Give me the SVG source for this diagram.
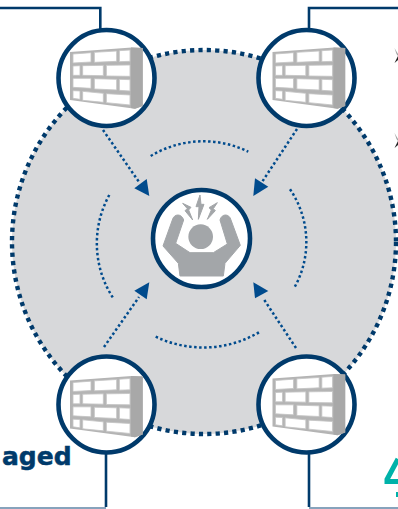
<svg xmlns="http://www.w3.org/2000/svg" xmlns:xlink="http://www.w3.org/1999/xlink" width="398" height="509" viewBox="0 0 398 509">
<style>
.frame{fill:none;stroke:#003a6b;stroke-width:2.6}
.thin{fill:none;stroke:#5f84a6;stroke-width:1.4}
.ring{fill:#fff;stroke:#003a6b;stroke-width:4.6}
.dots{fill:none;stroke:#004b8d;stroke-width:2.5;stroke-dasharray:2.5 2.5}
.head{fill:#004b8d}
.ico{fill:#a3a6a9;stroke:#a3a6a9;stroke-width:3}
</style>
<defs>
<g id="wall">
<polygon points="70,52 131.7,47.5 142.7,48 142.7,106 135,108.7 70,100" fill="#b4b4b4"/>
<polygon points="131,47.6 142.7,48 142.7,106 135,108.7 131,108" fill="#a8a8a8"/>
<g transform="scale(0.33333)" fill="#fff" stroke="#c4c4c4" stroke-width="2.5">
<polygon points="219,162 273,158 273,186 219,189"/>
<polygon points="283,157 350,153 350,184 283,187"/>
<polygon points="358,152 390,150 390,184 358,185"/>
<polygon points="219,198 240,197 240,226 219,226"/>
<polygon points="248,197 310,196 310,227 248,226"/>
<polygon points="319,196 390,195 390,229 319,228"/>
<polygon points="219,235 273,235 273,265 219,262"/>
<polygon points="283,236 350,238 350,270 283,267"/>
<polygon points="358,238 390,239 390,273 358,271"/>
<polygon points="219,272 240,273 240,298 219,295"/>
<polygon points="248,274 310,280 310,307 248,301"/>
<polygon points="319,281 390,285 390,315 319,308"/>
</g>
</g>
</defs>

<g id="background-circle">
<circle cx="204" cy="242" r="192" fill="#d7d8da" stroke="#003a6b" stroke-width="4.4" stroke-dasharray="4.2 4.2"/>
</g>

<g id="connectors">
<path class="frame" d="M0,8H100.3V32"/>
<path class="frame" d="M398,8H309V32"/>
<path class="frame" d="M106,452V507"/>
<path class="thin" d="M0,508H106"/>
<path class="frame" d="M309,452V507"/>
<path class="thin" d="M309,508H398"/>
<path class="dots" d="M103,130L139,182"/>
<polygon class="head" points="149.3,196 134.3,188.3 146.7,179"/>
<path class="dots" d="M297,129L262,182"/>
<polygon class="head" points="253.3,196 268.3,186.7 255,178.3"/>
<path class="dots" d="M104,347L139,297"/>
<polygon class="head" points="149.3,282.3 134.3,290.7 146.7,299.3"/>
<path class="dots" d="M296,348L263,298"/>
<polygon class="head" points="253.3,282.3 268.3,291 255,298.3"/>
<path class="dots" d="M150.7,156A102,102 0 0 1 248.3,151.7"/>
<path class="dots" d="M109.3,195A100,100 0 0 0 113.3,298.3"/>
<path class="dots" d="M290,189.3A93,93 0 0 1 294.3,287.7"/>
<path class="dots" d="M155.7,336.7A110,110 0 0 0 259,332.3"/>
</g>

<g id="firewall-top-left">
<circle class="ring" cx="106.5" cy="78" r="48"/>
<use href="#wall" xlink:href="#wall"/>
</g>
<g id="firewall-top-right">
<circle class="ring" cx="306.5" cy="78" r="48"/>
<use href="#wall" xlink:href="#wall" x="202.5"/>
</g>
<g id="firewall-bottom-left">
<circle class="ring" cx="106.5" cy="404.5" r="48"/>
<use href="#wall" xlink:href="#wall" y="328.5"/>
</g>
<g id="firewall-bottom-right">
<circle class="ring" cx="306.5" cy="404.5" r="48"/>
<use href="#wall" xlink:href="#wall" x="202.5" y="326.5"/>
</g>

<g id="stressed-person">
<circle class="ring" cx="201.5" cy="238.5" r="48.5"/>
<g transform="translate(130,170) scale(0.33333)" class="ico">
<circle cx="212" cy="200" r="37" stroke="none"/>
<path d="M127,150C132,130 155,130 161,150L137,220L180,248H250L292,222L270,150C275,130 298,130 303,150L331,226L285,280L280,318H150L145,280L99,228Z"/>
<polygon points="210,75 198,110 207,110 205,148 222,103 213,103"/>
<polygon points="158,100 183,112 176,120 188,150 165,122 172,116"/>
<polygon points="262,98 237,113 244,120 232,148 256,122 250,116"/>
</g>
</g>

<g id="label">
<text x="2" y="465" font-family="'DejaVu Sans',Verdana,sans-serif" font-weight="700" font-size="25" fill="#003a6b" stroke="#003a6b" stroke-width="0.5">aged</text>
</g>

<g id="edge-fragments">
<polygon points="394.5,48 398,54 398,56 396.5,54" fill="#a0a0a0"/>
<polygon points="394.5,63 398,56 398,60" fill="#222"/>
<polygon points="394.5,133 398,139 398,141 396.5,139" fill="#a0a0a0"/>
<polygon points="394.5,148 398,141 398,145" fill="#222"/>
<path d="M398,459L387,479.5V481.5H398" fill="none" stroke="#00b2a9" stroke-width="5"/>
<rect x="396" y="492" width="2" height="5" fill="#00b2a9"/>
</g>
</svg>
